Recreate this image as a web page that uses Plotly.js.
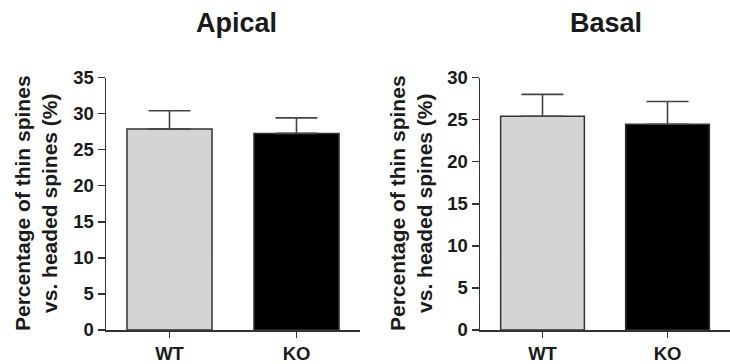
<!DOCTYPE html>
<html><head><meta charset="utf-8">
<script src="https://cdn.plot.ly/plotly-3.0.1.min.js"></script>
<style>body{margin:0;background:#fff}#c{width:730px;height:364px}</style>
</head><body><div id="c"></div>
<script>
const categories = ["WT", "KO"];
const apicalValues = [27.85, 27.25];
const apicalErrors = [2.55, 2.15];
const basalValues = [25.4, 24.45];
const basalErrors = [2.6, 2.7];
const barColors = ["#d4d4d4", "#000000"];
const panelTitles = ["Apical", "Basal"];
const yTitle = "Percentage of thin spines<br>vs. headed spines (%)";

const FONT = "Liberation Sans, Arial, Helvetica, sans-serif";
const axisCol = "#333333";

function barTrace(vals, errs, xa, ya) {
  return {
    type: "bar", x: categories, y: vals, xaxis: xa, yaxis: ya,
    width: 0.67,
    marker: {color: barColors, line: {color: axisCol, width: 1.5}},
    error_y: {type: "data", array: errs, arrayminus: errs.map(() => 0), symmetric: false,
              color: "#444444", thickness: 1.6, width: 21},
    hoverinfo: "skip", showlegend: false
  };
}

const tickFont = {family: FONT, size: 18.5, color: "#1a1a1a", weight: "bold"};
function xAx(domain, anchor) {
  return {domain: domain, anchor: anchor, range: [-0.5, 1.5], showline: true, linecolor: axisCol, linewidth: 1.5,
          ticks: "outside", ticklen: 6, tickwidth: 1.5, tickcolor: axisCol, showgrid: false, zeroline: false,
          tickfont: tickFont, fixedrange: true};
}
function yAx(domain, anchor, max) {
  return {domain: domain, anchor: anchor, range: [0, max], dtick: 5, showline: true, linecolor: axisCol, linewidth: 1.5,
          ticks: "outside", ticklen: 7, tickwidth: 1.5, tickcolor: axisCol, showgrid: false, zeroline: false,
          tickfont: tickFont, ticklabelstandoff: 0, fixedrange: true};
}

const yDom = [34/364, 1 - 77.5/364];
const titleFont = {family: FONT, size: 27, color: "#1a1a1a", weight: "bold"};
const axTitleFont = {family: FONT, size: 21, color: "#1a1a1a", weight: "bold"};
const layout = {
  width: 730, height: 364, margin: {l: 0, r: 0, t: 0, b: 0},
  paper_bgcolor: "#fff", plot_bgcolor: "#fff",
  xaxis: xAx([106/730, 360/730], "y"),
  yaxis: yAx(yDom, "x", 35),
  xaxis2: xAx([480/730, 1], "y2"),
  yaxis2: yAx(yDom, "x2", 30),
  annotations: [
    {text: panelTitles[0], xref: "paper", yref: "paper", x: 236/730, y: 1 - 23/364, showarrow: false,
     xanchor: "center", yanchor: "middle", font: titleFont},
    {text: panelTitles[1], xref: "paper", yref: "paper", x: 606/730, y: 1 - 23/364, showarrow: false,
     xanchor: "center", yanchor: "middle", font: titleFont},
    {text: yTitle, xref: "paper", yref: "paper", x: 36/730, y: 1 - 203/364, showarrow: false, textangle: -90,
     xanchor: "center", yanchor: "middle", font: axTitleFont},
    {text: yTitle, xref: "paper", yref: "paper", x: 411/730, y: 1 - 203/364, showarrow: false, textangle: -90,
     xanchor: "center", yanchor: "middle", font: axTitleFont}
  ]
};

Plotly.newPlot("c", [barTrace(apicalValues, apicalErrors, "x", "y"), barTrace(basalValues, basalErrors, "x2", "y2")],
  layout, {displayModeBar: false, staticPlot: true});
</script></body></html>
